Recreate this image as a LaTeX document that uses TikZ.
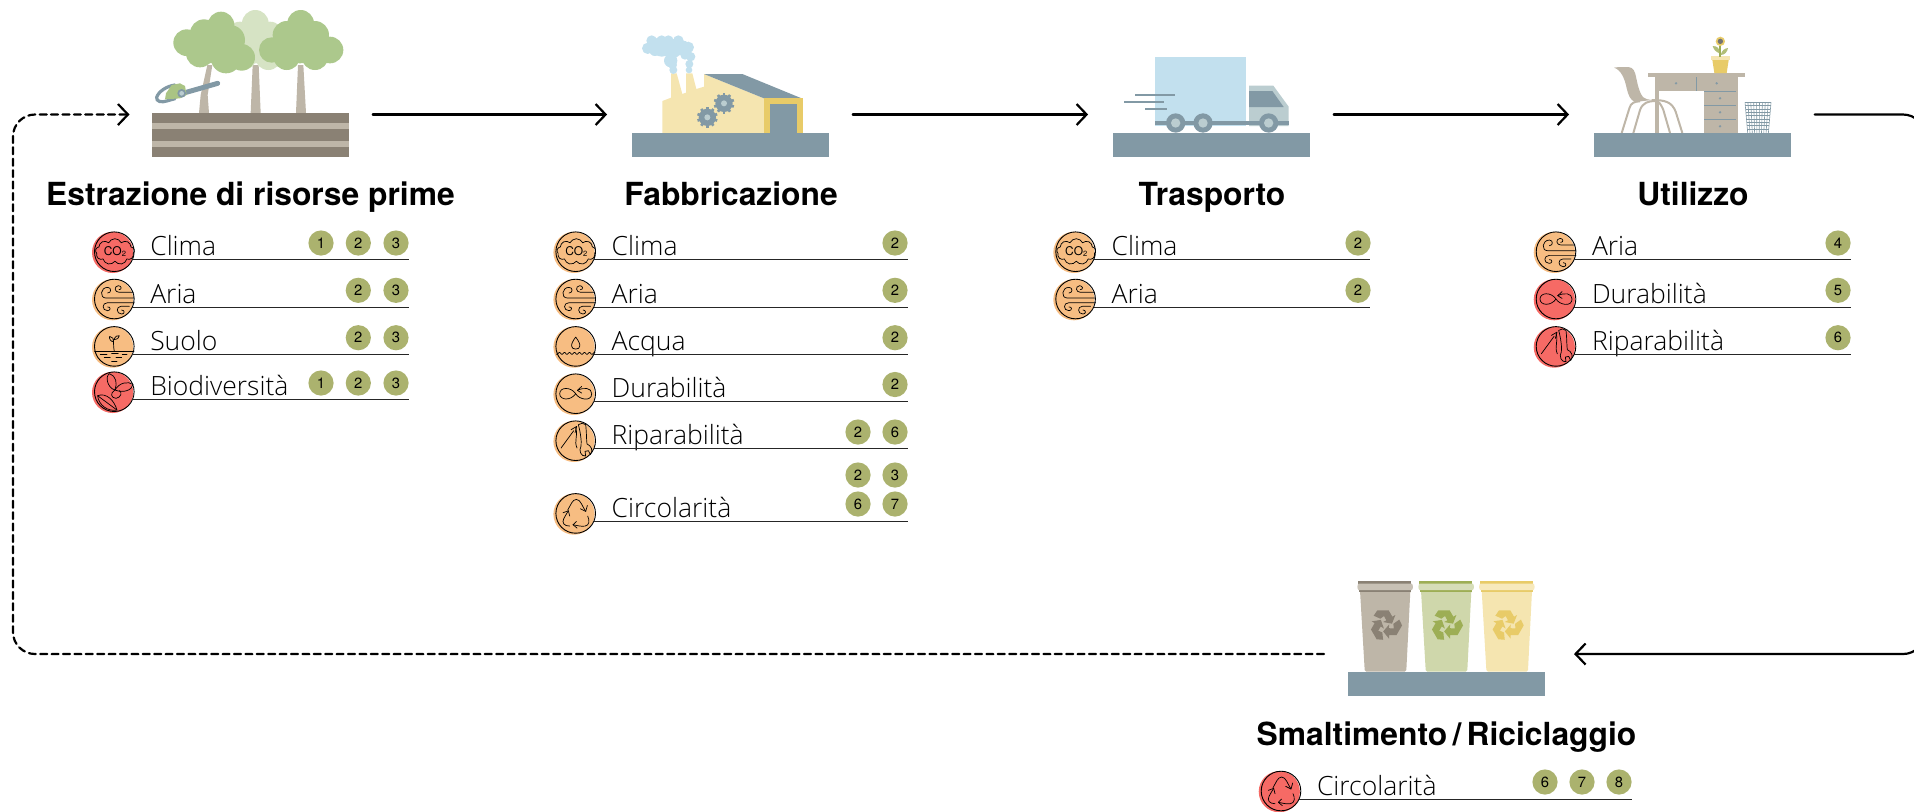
\documentclass[tikz,border=0pt]{standalone}
\usepackage{fontspec}
\setmainfont{TeX Gyre Heros}
\newfontfamily\lightf{Open Sans Light}
\usetikzlibrary{arrows.meta,calc,shapes.symbols}
\definecolor{steel}{HTML}{8299A5}
\definecolor{soil}{HTML}{8A8174}
\definecolor{sand}{HTML}{BEB6A8}
\definecolor{leaf}{HTML}{ACC88C}
\definecolor{leaflight}{HTML}{D6E3C4}
\definecolor{sky}{HTML}{C2E0EE}
\definecolor{cream}{HTML}{F5E5B0}
\definecolor{gold}{HTML}{E8CB68}
\definecolor{pale}{HTML}{BBCDD0}
\definecolor{hot}{HTML}{F66A65}
\definecolor{warm}{HTML}{F7BD82}
\definecolor{bdg}{HTML}{ABB26E}
\definecolor{olive}{HTML}{9DAE55}
\definecolor{sage}{HTML}{CFD7AB}
\tikzset{
  x=0.5pt,y=-0.5pt,
  stage/.style={minimum width=121pt,minimum height=10pt,inner sep=0pt,outer sep=0pt},
  ground/.style={fill=steel,minimum width=98.5pt,minimum height=12pt,inner sep=0pt,outer sep=0pt},
  conn/.style={line width=1.1pt,line cap=round,line join=round,-{Straight Barb[length=5pt,width=10.5pt,line width=1.1pt]}},
  title/.style={font=\fontsize{15.9}{18}\selectfont\bfseries,anchor=base,inner sep=0pt},
  label/.style={font=\lightf\fontsize{13.25}{15}\selectfont,anchor=base west,inner sep=0pt,text=black},
  ringfill/.style={circle,fill=#1,minimum size=20.6pt,inner sep=0pt,outer sep=0pt},
  ring/.style={circle,draw=black,line width=.45pt,minimum size=19.8pt,inner sep=0pt,outer sep=0pt},
  rule/.style={line width=.5pt,black!85},
  badge/.style={circle,fill=bdg,minimum size=12.6pt,inner sep=0pt,font=\fontsize{7.4}{8}\selectfont},
  ico/.style={line width=.35pt,black,line cap=round,line join=round},
}
\newcommand{\icocloud}[1]{%
  \node[cloud,draw=black,line width=.35pt,cloud puffs=9,cloud puff arc=130,aspect=1.7,minimum width=19.5pt,minimum height=13pt,inner sep=0pt,font=\fontsize{6}{6}\selectfont] (#1-cloud) at (2,0) {CO\raisebox{-.6pt}{\fontsize{3.8}{4}\selectfont 2}};}
\newcommand{\icowind}[1]{%
  \draw[ico] (57,-20) -- (15,-20) .. controls (0,-20) and (-2,-38) .. (12,-40) .. controls (22,-40) and (24,-28) .. (14,-28);
  \draw[ico] (60,-3) -- (-25,-3) .. controls (-45,-3) and (-42,-35) .. (-20,-35) .. controls (-8,-35) and (-8,-18) .. (-20,-18);
  \draw[ico] (60,11) -- (-20,11) .. controls (-38,11) and (-38,35) .. (-20,35) .. controls (-10,35) and (-10,22) .. (-20,24);
  \draw[ico] (45,22) -- (20,22) .. controls (5,22) and (5,45) .. (22,45) .. controls (32,45) and (32,33) .. (22,33);}
\newcommand{\icosoil}[1]{%
  \draw[ico] (-59,15) -- (59,15);
  \draw[ico] (0,15) .. controls (-3,0) and (-2,-12) .. (-2,-22);
  \draw[ico] (-2,-14) .. controls (-12,-14) and (-16,-25) .. (-14,-30) .. controls (-5,-30) and (-2,-22) .. (-2,-14);
  \draw[ico] (-1,-20) .. controls (2,-30) and (10,-35) .. (15,-32) .. controls (15,-25) and (8,-20) .. (-1,-20);
  \draw[ico] (-42,24) -- (-22,24) (-8,22) -- (12,22) (24,25) -- (38,25) (-30,34) -- (-12,34) (5,33) -- (22,33) (-8,44) -- (8,44);}
\newcommand{\icobio}[1]{%
  \draw[ico] (2,-5) .. controls (-22,-12) and (-28,-48) .. (-14,-54) .. controls (5,-48) and (10,-25) .. cycle;
  \draw[ico] (2,-5) .. controls (15,-28) and (42,-32) .. (56,-22) .. controls (54,-5) and (28,5) .. cycle;
  \draw[ico] (2,-5) .. controls (-14,5) and (-10,18) .. (5,20) .. controls (22,17) and (24,0) .. (15,-3);
  \draw[ico] (-50,12) .. controls (-25,2) and (0,25) .. (8,55) .. controls (-20,60) and (-47,40) .. cycle;
  \draw[ico] (-50,12) -- (8,55);}
\newcommand{\icowater}[1]{%
  \draw[ico] (0,-28) .. controls (-18,-5) and (-15,8) .. (0,8) .. controls (15,8) and (18,-5) .. cycle;
  \draw[ico] plot[domain=-58:58,samples=60,smooth] (\x,{21+3*sin(\x*24)});}
\newcommand{\icoinf}[1]{%
  \draw[ico] (0,0) .. controls (-15,-22) and (-48,-20) .. (-48,0) .. controls (-48,20) and (-15,22) .. (0,0) .. controls (10,18) and (48,25) .. (48,0) .. controls (48,-18) and (25,-20) .. (5,-10);
  \draw[ico] (18,-22) -- (5,-10) -- (18,-2);}
\newcommand{\icotools}[1]{%
  \draw[ico] (-44,22) -- (-6,-30);
  \draw[ico] (-14,-33) -- (3,-43) -- (-2,-24);
  \draw[ico] (0,-38) .. controls (8,-15) and (-6,0) .. (4,22);
  \draw[ico] (8,-48) .. controls (14,-54) and (25,-54) .. (30,-48) .. controls (33,-20) and (32,0) .. (34,10) .. controls (46,14) and (54,30) .. (44,42) -- (38,30) -- (28,32) -- (30,46) .. controls (16,48) and (8,30) .. (16,16) .. controls (18,0) and (14,-25) .. (8,-48);}
\newcommand{\icocirc}[1]{%
  \draw[ico] (-24,-10) .. controls (-15,-25) and (-10,-42) .. (2,-42) .. controls (15,-42) and (20,-20) .. (30,-6);
  \draw[ico] (14,-14) -- (30,-6) -- (35,-24);
  \draw[ico] (36,8) .. controls (42,20) and (42,36) .. (28,38) .. controls (15,40) and (5,36) .. (-8,34);
  \draw[ico] (2,24) -- (-8,34) -- (4,44);
  \draw[ico] (-18,38) .. controls (-35,38) and (-42,28) .. (-36,16) .. controls (-32,8) and (-28,2) .. (-22,-8);
  \draw[ico] (-38,-2) -- (-22,-8) -- (-18,8);}
\newcommand{\Row}[7]{%
  \coordinate (#1-e) at (#4,{#3+8.3});
  \begin{scope}[shift={(#2,#3)}]
    \node[ringfill=#5] (#1-f) at (-1.7,0.7) {};
    \node[ring] (#1-o) at (0,0) {};
    \begin{scope}[scale=.33333]
      #6{#1}
    \end{scope}
    \node[label] (#1-t) at (35.6,4) {#7};
  \end{scope}
  \draw[rule] (#1-o.-24.5) -- (#1-o.-24.5 -| #1-e);}
\newcommand{\Bdg}[4]{\node[badge] (#1) at (#2,#3) {#4};}
\newcommand{\Recy}[2]{% colour, x of centre
  \foreach \r in {0,120,240} {
    \fill[#1,shift={(#2,165)},rotate=\r] (-24,-44) -- (10,-44) -- (21,-25) -- (30,-30) -- (20,-4) -- (-7,-9) -- (3,-14) -- (-4,-27) -- (-15,-19) -- (-35,-28) -- cycle;
  }}
\newcommand{\Bin}[4]{% offset, body, dark, lid
  \begin{scope}[xshift=#1*.5pt]
    \fill[#2] (90,62) -- (241,62) -- (229,300) .. controls (229,304) and (227,305) .. (224,305) -- (109,305) .. controls (106,305) and (104,304) .. (104,300) -- cycle;
    \fill[#3] (85,34) rectangle (244,44);
    \fill[#3] (88,58) rectangle (243,67);
    \fill[#4] (86,41) -- (245,41) .. controls (250,42) and (250,59) .. (245,60) -- (86,60) .. controls (81,59) and (81,42) .. (86,41) -- cycle;
    \Recy{#3}{166}
  \end{scope}}
\begin{document}
\begin{tikzpicture}
\clip (0,0) rectangle (1914,811);
% ---------- stage anchors
\node[stage] (s1) at (250.5,114.5) {};
\node[stage] (s2) at (730.5,114.5) {};
\node[stage] (s3) at (1211.5,114.5) {};
\node[stage] (s4) at (1692.5,114.5) {};
\node[stage,minimum width=125pt] (s5) at (1449,654) {};
\coordinate (rturn) at (1925,380);
\coordinate (lturn) at (13,380);
% ---------- connectors
\draw[conn,shorten <=.6pt,shorten >=1.2pt] (s1.east) -- (s2.west);
\draw[conn,shorten <=.6pt,shorten >=1.2pt] (s2.east) -- (s3.west);
\draw[conn,shorten <=.6pt,shorten >=1.2pt] (s3.east) -- (s4.west);
\draw[conn,rounded corners=11pt,shorten <=.6pt] (s4.east) -| (rturn) |- (s5.east);
\draw[conn,dashed,dash pattern=on 3.5pt off 2.2pt,rounded corners=11pt] (s5.west) -| (lturn) |- (s1.west);
% ---------- stage 1: trees
\begin{scope}[shift={(130,0)},scale=.33333]
  \fill[sand] (362,339) -- (392,339) -- (386,195) -- (368,195) -- cycle;
  \fill[leaflight] (376,70) circle (40) (330,105) circle (40) (420,105) circle (40) (415,170) circle (40) (340,170) circle (40) (376,130) circle (60);
  \fill[sand] (207,339) -- (237,339) -- (233,285) -- (247,195) -- (232,195) -- (212,285) -- cycle;
  \fill[sand] (498,339) -- (528,339) -- (520,195) -- (504,195) -- cycle;
  \fill[leaf] (170,128) circle (40) (222,100) circle (42) (273,75) circle (40) (300,120) circle (45) (210,160) circle (42) (288,175) circle (45) (335,172) circle (40) (250,130) circle (60);
  \fill[leaf] (512,70) circle (40) (470,105) circle (42) (555,105) circle (42) (600,150) circle (40) (425,150) circle (38) (470,170) circle (40) (555,170) circle (40) (510,130) circle (60);
  \draw[steel,line width=2.5pt,line cap=round] (165,278) -- (263,250);
  \draw[steel,line width=1.6pt,line cap=round] (135,255) .. controls (110,258) and (85,275) .. (80,292) .. controls (78,305) and (95,308) .. (110,303) -- (135,296);
  \fill[leaf!85!olive] (105,298) -- (108,280) -- (125,255) -- (150,250) -- (165,258) -- (170,285) -- (150,295) -- cycle;
  \fill[steel] (155,280) circle (13);
  \fill[pale] (155,280) circle (7);
\end{scope}
\node[ground,minimum height=22pt,fill=soil] (g1) at (250.5,135) {};
\fill[sand] (152,123) rectangle (349,129);
\fill[sand] (152,141) rectangle (349,147);
% ---------- stage 2: factory
\begin{scope}[shift={(620,20)},scale=.33333]
  \fill[cream] (127,339) -- (127,243) -- (153,233) -- (153,160) -- (170,160) -- (187,222) -- (198,218) -- (198,160) -- (217,160) -- (229,207) -- (252,200) -- (252,162) -- (432,235) -- (432,339) -- cycle;
  \fill[steel] (252,162) -- (367,162) -- (545,235) -- (432,235) -- cycle;
  \fill[gold] (432,235) rectangle (549,339);
  \fill[steel] (450,252) rectangle (531,339);
  \fill[sky] (83,85) circle (17) (95,62) circle (16) (125,62) circle (16) (145,62) circle (16) (175,62) circle (16) (105,90) circle (18) (125,80) circle (30) (160,85) circle (28) (205,82) circle (17) (190,80) circle (18) (212,110) circle (14) (208,132) circle (12) (207,150) circle (10) (160,150) circle (12) (152,122) circle (20) (195,105) circle (14) (158,135) circle (13);
  \foreach \cx/\cy in {312/250,262/292} {
    \fill[steel] (\cx,\cy) circle (26);
    \foreach \a in {0,36,...,324} \fill[steel,shift={(\cx,\cy)},rotate=\a] (-4,22) rectangle (4,31);
    \fill[pale] (\cx,\cy) circle (9);
  }
\end{scope}
\node[ground] (g2) at (730.5,145) {};
% ---------- stage 3: truck
\begin{scope}[shift={(1100,40)},scale=.33333]
  \fill[sky] (165,51) rectangle (438,258);
  \fill[pale] (447,137) -- (520,137) -- (566,200) -- (566,258) -- (447,258) -- cycle;
  \fill[steel] (447,153) -- (517,153) -- (551,201) -- (447,201) -- cycle;
  \fill[steel] (165,243) rectangle (567,255);
  \foreach \w in {227,309,506} {
    \fill[steel] (\w,249) circle (29);
    \fill[pale] (\w,249) circle (14);
  }
  \draw[steel,line width=1pt] (105,164) -- (225,164) (72,185) -- (192,185) (135,206) -- (201,206);
\end{scope}
\node[ground] (g3) at (1211.5,145) {};
% ---------- stage 4: desk
\begin{scope}[shift={(1580,20)},scale=.33333]
  \fill[sand] (102,143) .. controls (110,141) and (130,141) .. (145,141) .. controls (160,142) and (165,155) .. (168,170) .. controls (172,190) and (178,220) .. (190,232) .. controls (195,238) and (205,238) .. (215,240) -- (165,246) .. controls (150,240) and (145,225) .. (140,205) .. controls (135,180) and (125,150) .. cycle;
  \draw[sand,line width=1pt] (125,339) -- (148,265) .. controls (152,248) and (165,244) .. (180,244);
  \draw[sand,line width=1pt] (160,339) -- (180,270) .. controls (188,248) and (205,243) .. (225,243);
  \draw[sand,line width=1pt] (270,339) -- (250,270) .. controls (242,250) and (235,245) .. (230,243);
  \draw[sand,line width=1pt] (307,339) -- (287,275) .. controls (275,245) and (255,240) .. (215,240);
  \fill[sand] (204,159) rectangle (495,171);
  \fill[sand] (225,171) rectangle (474,213);
  \fill[sand] (225,213) rectangle (237,339);
  \fill[sand] (372,213) rectangle (474,339);
  \draw[steel,line width=.5pt] (350,171) -- (350,213) (372,214) -- (468,214) (372,256) -- (468,256) (372,298) -- (468,298);
  \fill[steel] (288,190) circle (4) (410,190) circle (4) (420,235) circle (4) (420,277) circle (4) (420,319) circle (4);
  \fill[cream] (393,108) rectangle (450,120);
  \fill[gold] (397,120) -- (446,120) -- (440,159) -- (403,159) -- cycle;
  \fill[olive] (417,78) rectangle (422,110);
  \fill[olive!80!white] (418,100) .. controls (405,95) and (400,85) .. (398,78) .. controls (412,78) and (420,85) .. (418,100);
  \fill[olive!80!white] (422,105) .. controls (425,90) and (435,85) .. (444,84) .. controls (442,95) and (435,105) .. (422,105);
  \fill[gold] (421,64) circle (14);
  \fill[black!55] (421,64) circle (8);
  \foreach \t in {0,...,9} \draw[steel,line width=.3pt] ({495+\t*8.67},247) -- ({503+\t*6.9},339);
  \foreach \k in {0,...,8} \draw[steel,line width=.3pt] ({495+\k*.87},{247+\k*10}) -- ({573-\k*.87},{247+\k*10});
\end{scope}
\node[ground] (g4) at (1692.5,145) {};
% ---------- stage 5: bins
\begin{scope}[shift={(1330,570)},scale=.33333]
  \Bin{0}{sand}{soil}{sand!85!white}
  \Bin{183}{sage}{olive}{sage!85!white}
  \Bin{365}{cream}{gold}{cream!85!white}
\end{scope}
\node[ground] (g5) at (1446,684) {};
% ---------- titles
\node[title] (t1) at (250.5,205.5) {Estrazione di risorse prime};
\node[title] (t2) at (731,205.5) {Fabbricazione};
\node[title] (t3) at (1212,205.5) {Trasporto};
\node[title] (t4) at (1693,205.5) {Utilizzo};
\node[title] (t5) at (1446.5,745.5) {Smaltimento\,/\,Riciclaggio};
% ---------- column 1
\Row{a1}{114.3}{251.7}{409}{hot}{\icocloud}{Clima}
\Row{a2}{114.3}{299}{409}{warm}{\icowind}{Aria}
\Row{a3}{114.3}{346.4}{409}{warm}{\icosoil}{Suolo}
\Row{a4}{114.3}{391.7}{409}{hot}{\icobio}{Biodiversità}
\Bdg{a1x}{321}{243}{1}\Bdg{a1y}{358.3}{243}{2}\Bdg{a1z}{396}{243}{3}
\Bdg{a2y}{358.3}{290.3}{2}\Bdg{a2z}{396}{290.3}{3}
\Bdg{a3y}{358.3}{337.7}{2}\Bdg{a3z}{396}{337.7}{3}
\Bdg{a4x}{321}{383}{1}\Bdg{a4y}{358.3}{383}{2}\Bdg{a4z}{396}{383}{3}
% ---------- column 2
\Row{b1}{575.7}{251.7}{908}{warm}{\icocloud}{Clima}
\Row{b2}{575.7}{299}{908}{warm}{\icowind}{Aria}
\Row{b3}{575.7}{346.4}{908}{warm}{\icowater}{Acqua}
\Row{b4}{575.7}{393.7}{908}{warm}{\icoinf}{Durabilità}
\Row{b5}{575.7}{440.7}{908}{warm}{\icotools}{Riparabilità}
\Row{b6}{575.7}{513.4}{908}{warm}{\icocirc}{Circolarità}
\Bdg{b1x}{895}{243}{2}\Bdg{b2x}{895}{290.3}{2}\Bdg{b3x}{895}{337.7}{2}\Bdg{b4x}{895}{384.5}{2}
\Bdg{b5x}{858}{432}{2}\Bdg{b5y}{895}{432}{6}
\Bdg{b6x}{858}{475}{2}\Bdg{b6y}{895}{475}{3}\Bdg{b6z}{858}{504}{6}\Bdg{b6w}{895}{504}{7}
% ---------- column 3
\Row{c1}{1075.6}{251.7}{1370}{warm}{\icocloud}{Clima}
\Row{c2}{1075.6}{299}{1370}{warm}{\icowind}{Aria}
\Bdg{c1x}{1358}{243}{2}\Bdg{c2x}{1358}{290.3}{2}
% ---------- column 4
\Row{d1}{1556}{251.7}{1851}{warm}{\icowind}{Aria}
\Row{d2}{1556}{299}{1851}{hot}{\icoinf}{Durabilità}
\Row{d3}{1556}{346.4}{1851}{hot}{\icotools}{Riparabilità}
\Bdg{d1x}{1838}{243}{4}\Bdg{d2x}{1838}{290.3}{5}\Bdg{d3x}{1838}{337.7}{6}
% ---------- column 5
\Row{e1}{1281}{791}{1632}{hot}{\icocirc}{Circolarità}
\Bdg{e1x}{1545}{782}{6}\Bdg{e1y}{1582}{782}{7}\Bdg{e1z}{1619}{782}{8}
\end{tikzpicture}
\end{document}
